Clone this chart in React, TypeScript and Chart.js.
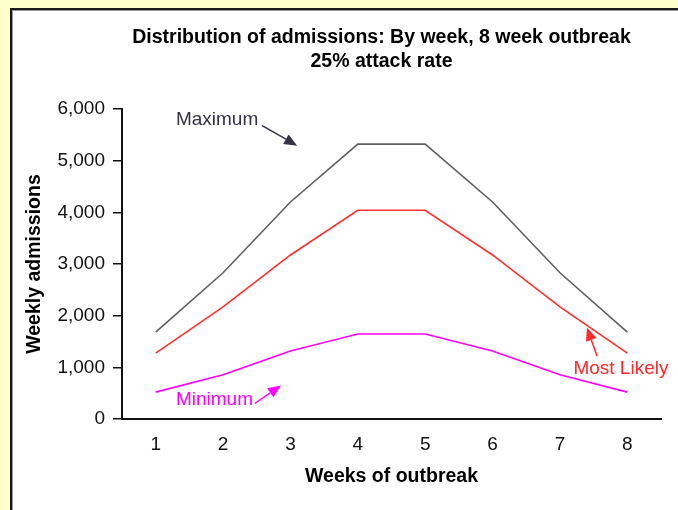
import React, { useEffect, useRef } from "react";
import { Chart, registerables } from "chart.js";

Chart.register(...registerables);

// ---- data ----
const weeks = ["1", "2", "3", "4", "5", "6", "7", "8"];
const maximumSeries = [1680, 2830, 4200, 5320, 5320, 4200, 2830, 1680];
const mostLikelySeries = [1275, 2170, 3175, 4040, 4040, 3175, 2170, 1275];
const minimumSeries = [520, 855, 1315, 1645, 1645, 1315, 855, 520];
const yTickValues = [0, 1000, 2000, 3000, 4000, 5000, 6000];
const titleLines = ["Distribution of admissions: By week, 8 week outbreak", "25% attack rate"];
const seriesNames = ["Maximum", "Most Likely", "Minimum"];

const FONT = "'Liberation Sans', Arial, sans-serif";

// annotation placement in data units (x = category index, y = value)
const notes = [
  { text: seriesNames[0], color: "#333344", at: [0.3, 5790], from: [1.58, 5680], to: [2.1, 5290] },
  { text: seriesNames[1], color: "#ff2a2a", at: [6.2, 965], from: [6.55, 1220], to: [6.4, 1770] },
  { text: seriesNames[2], color: "#ff00ff", at: [0.3, 365], from: [1.47, 300], to: [1.86, 650] },
];

const annotationPlugin = {
  id: "annot",
  afterDatasetsDraw(chart: any) {
    const { ctx, scales, chartArea } = chart;
    const xs = scales.x;
    const ys = scales.y;
    ctx.save();
    // title
    ctx.fillStyle = "#000";
    ctx.textAlign = "center";
    ctx.textBaseline = "middle";
    ctx.font = `bold 19.5px ${FONT}`;
    const cx = (chartArea.left + chartArea.right) / 2 - 10;
    ctx.fillText(titleLines[0], cx, 38);
    ctx.fillText(titleLines[1], cx, 62);

    ctx.font = `19px ${FONT}`;
    ctx.textAlign = "left";
    for (const n of notes) {
      ctx.fillStyle = n.color;
      ctx.strokeStyle = n.color;
      ctx.fillText(n.text, xs.getPixelForValue(n.at[0]), ys.getPixelForValue(n.at[1]));
      const x1 = xs.getPixelForValue(n.from[0]);
      const y1 = ys.getPixelForValue(n.from[1]);
      const x2 = xs.getPixelForValue(n.to[0]);
      const y2 = ys.getPixelForValue(n.to[1]);
      const ang = Math.atan2(y2 - y1, x2 - x1);
      const len = 13;
      const hw = 5.5;
      const bx = x2 - len * Math.cos(ang);
      const by = y2 - len * Math.sin(ang);
      ctx.lineWidth = 1.5;
      ctx.beginPath();
      ctx.moveTo(x1, y1);
      ctx.lineTo(bx, by);
      ctx.stroke();
      ctx.beginPath();
      ctx.moveTo(x2, y2);
      ctx.lineTo(bx + hw * Math.sin(ang), by - hw * Math.cos(ang));
      ctx.lineTo(bx - hw * Math.sin(ang), by + hw * Math.cos(ang));
      ctx.closePath();
      ctx.fill();
    }
    ctx.restore();
  },
};

export default function App() {
  const ref = useRef<HTMLCanvasElement | null>(null);
  useEffect(() => {
    if (!ref.current) return;
    const chart = new Chart(ref.current, {
      type: "line",
      data: {
        labels: weeks,
        datasets: [
          { label: seriesNames[0], data: maximumSeries, borderColor: "#606060", borderWidth: 1.6, pointRadius: 0, tension: 0 },
          { label: seriesNames[1], data: mostLikelySeries, borderColor: "#ff3030", borderWidth: 1.6, pointRadius: 0, tension: 0 },
          { label: seriesNames[2], data: minimumSeries, borderColor: "#ff00ff", borderWidth: 1.6, pointRadius: 0, tension: 0 },
        ],
      },
      options: {
        responsive: false,
        animation: false,
        layout: { padding: { left: 0, right: 17, top: 109, bottom: 0 } },
        plugins: { legend: { display: false }, tooltip: { enabled: false }, title: { display: false } },
        scales: {
          x: {
            type: "category",
            offset: true,
            grid: { display: false, drawTicks: false },
            border: { display: true, color: "#111", width: 2 },
            ticks: { color: "#111", font: { family: FONT, size: 19 }, padding: 14, maxRotation: 0 },
            title: { display: true, text: "Weeks of outbreak", color: "#000", font: { family: FONT, size: 19.5, weight: "bold" }, padding: { top: 4, bottom: 22 } },
            afterFit: (s: any) => { s.height = 91; },
          },
          y: {
            min: 0,
            max: 6000,
            afterBuildTicks: (s: any) => { s.ticks = yTickValues.map((v) => ({ value: v })); },
            grid: { display: true, drawOnChartArea: false, drawTicks: true, tickLength: 9, color: "#111", lineWidth: 1.5 },
            border: { display: true, color: "#111", width: 2 },
            ticks: { color: "#111", font: { family: FONT, size: 19 }, padding: 8, callback: (v: any) => Number(v).toLocaleString("en-US") },
            title: { display: true, text: "Weekly admissions", color: "#000", font: { family: FONT, size: 19.5, weight: "bold" }, padding: { top: 23, bottom: 0 } },
            afterFit: (s: any) => { s.width = 122; },
          },
        },
      },
      plugins: [annotationPlugin],
    });
    return () => chart.destroy();
  }, []);

  return (
    <div style={{ position: "fixed", left: 0, top: 0, width: 678, height: 510, overflow: "hidden", background: "#ffffcc" }}>
      <div style={{ position: "absolute", left: 10, top: 8, width: 720, height: 560, border: "2px solid #1a1a1a", background: "#fff", boxShadow: "1px 1px 0 #999 inset" }} />
      <canvas ref={ref} width={678} height={510} style={{ position: "absolute", left: 0, top: 0 }} />
    </div>
  );
}
